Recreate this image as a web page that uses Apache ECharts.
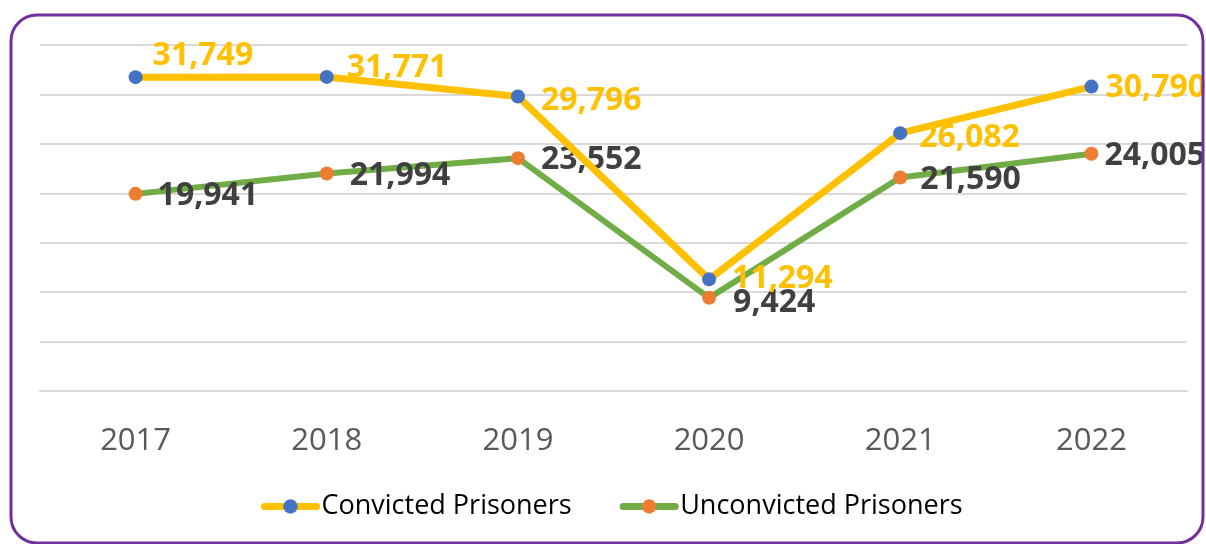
<!DOCTYPE html>
<html>
<head>
<meta charset="utf-8">
<script src="https://cdn.jsdelivr.net/npm/echarts@6/dist/echarts.min.js"></script>
<style>
  html, body { margin: 0; padding: 0; background: #fff; }
  #main { width: 1206px; height: 544px; }
</style>
</head>
<body>
<div id="main"></div>
<script>
const years = ["2017", "2018", "2019", "2020", "2021", "2022"];
const convicted = [31749, 31771, 29796, 11294, 26082, 30790];
const unconvicted = [19941, 21994, 23552, 9424, 21590, 24005];
const seriesNames = ["Convicted Prisoners", "Unconvicted Prisoners"];

// label nudges (px) so labels sit roughly where the original ones are
const convictedOffsets = [[-2, -21], [1, -9], [4, 4], [4, 0], [0, 5], [-5, 1]];
const unconvictedOffsets = [[3, 2], [4, 2], [4, 2], [5, 5], [1, 2], [-6, 2]];

const fmt = (v) => v.toLocaleString("en-US");

function buildData(values, offsets) {
  return values.map((v, i) => ({
    value: v,
    label: { offset: offsets[i] },
  }));
}

const chart = echarts.init(document.getElementById("main"));
const option = {
  backgroundColor: "#fff",
  animation: false,
  graphic: [
    {
      type: "rect",
      shape: { x: 11, y: 15, width: 1192, height: 528, r: 26 },
      style: { fill: "none", stroke: "#7030A0", lineWidth: 3 },
      z: 100,
    },
  ],
  grid: { left: 40, right: 19, top: 45, bottom: 153 },
  legend: {
    top: 488,
    left: 256,
    itemWidth: 52,
    itemHeight: 18,
    itemGap: 48,
    lineStyle: { width: 7, cap: "round" },
    textStyle: { fontFamily: "Open Sans", fontSize: 27, color: "#000" },
    data: seriesNames,
  },
  xAxis: {
    type: "category",
    data: years,
    axisLine: { lineStyle: { color: "#D9D9D9", width: 2 } },
    axisTick: { show: false },
    axisLabel: {
      fontFamily: "Open Sans",
      fontSize: 31,
      color: "#595959",
      margin: 35,
    },
  },
  yAxis: {
    type: "value",
    min: 0,
    max: 35000,
    interval: 5000,
    axisLabel: { show: false },
    axisLine: { show: false },
    axisTick: { show: false },
    splitLine: { lineStyle: { color: "#D9D9D9", width: 2 } },
  },
  series: [
    {
      name: seriesNames[0],
      type: "line",
      data: buildData(convicted, convictedOffsets),
      symbol: "circle",
      symbolSize: 14,
      lineStyle: { color: "#FFC000", width: 7 },
      itemStyle: { color: "#4472C4" },
      label: {
        show: true,
        position: "right",
        distance: 12,
        formatter: (p) => fmt(p.value),
        fontFamily: "Open Sans",
        fontWeight: "bold",
        fontSize: 32,
        color: "#FFC000",
      },
      z: 3,
    },
    {
      name: seriesNames[1],
      type: "line",
      data: buildData(unconvicted, unconvictedOffsets),
      symbol: "circle",
      symbolSize: 14,
      lineStyle: { color: "#70AD47", width: 6 },
      itemStyle: { color: "#ED7D31" },
      label: {
        show: true,
        position: "right",
        distance: 12,
        formatter: (p) => fmt(p.value),
        fontFamily: "Open Sans",
        fontWeight: "bold",
        fontSize: 32,
        color: "#404040",
      },
      z: 2,
    },
  ],
};
chart.setOption(option);
</script>
</body>
</html>
